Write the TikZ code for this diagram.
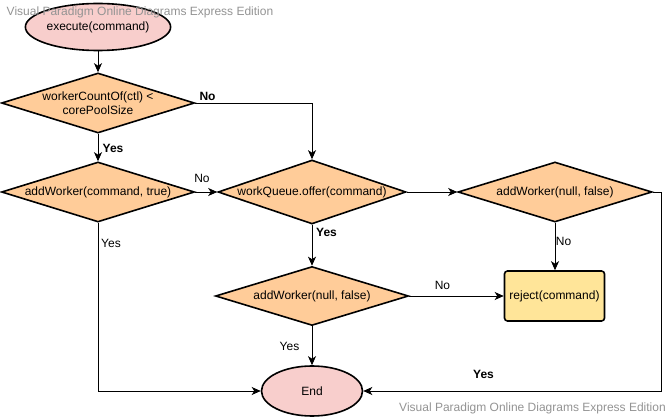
\documentclass[tikz,border=0pt]{standalone}
\usepackage{fontspec}
\setmainfont{Liberation Sans}
\usetikzlibrary{shapes.geometric,arrows.meta}
\definecolor{dfill}{HTML}{FFCC99}
\definecolor{efill}{HTML}{F8CECC}
\definecolor{rfill}{HTML}{FFE599}
\definecolor{wmgray}{HTML}{939393}
\begin{document}
\begin{tikzpicture}[x=1pt,y=-1pt,
  font=\fontsize{12}{14.5}\selectfont,
  decision/.style n args={3}{diamond, draw, line width=1.6pt, fill=dfill,
    minimum width=#1, minimum height=#2, inner sep=0pt,
    label={[align=center]center:{#3}}},
  terminal/.style={ellipse, draw, line width=1.6pt, fill=efill, inner sep=0pt},
  procbox/.style={rectangle, rounded corners=3pt, draw, line width=1.6pt, fill=rfill,
    minimum width=100pt, minimum height=50pt, inner sep=0pt},
  conn/.style={line width=0.9pt, -{Stealth[length=9pt,width=8pt,inset=2.5pt]}},
  lab/.style={inner sep=0pt},
  blab/.style={inner sep=0pt, font=\fontsize{12}{14.5}\selectfont\bfseries},
  wmark/.style={inner sep=0pt, text=wmgray, font=\fontsize{12}{14}\selectfont},
]
\useasboundingbox (0,0) rectangle (672,419);

\node[terminal, minimum width=116pt, minimum height=47pt] (s) at (98,27) {execute(command)};
\node[decision={193pt}{60pt}{workerCountOf(ctl) <\\corePoolSize}] (d1) at (98,103) {};
\node[decision={193pt}{60pt}{addWorker(command, true)}] (d2) at (98,192) {};
\node[decision={188pt}{64pt}{workQueue.offer(command)}] (d3) at (312,192) {};
\node[decision={194pt}{60pt}{addWorker(null, false)}] (d4) at (555,192) {};
\node[decision={193pt}{59pt}{addWorker(null, false)}] (d5) at (312,296) {};
\node[procbox] (r) at (554.5,296) {reject(command)};
\node[terminal, minimum width=101pt, minimum height=50pt] (e) at (312,391) {End};

\coordinate (c1) at (661,192);

\draw[conn] (s.south) -- (d1.north);
\draw[conn] (d1.east) -| (d3.north);
\draw[conn] (d1.south) -- (d2.north);
\draw[conn] (d2.east) -- (d3.west);
\draw[conn] (d2.south) |- (e.west);
\draw[conn] (d3.east) -- (d4.west);
\draw[conn] (d3.south) -- (d5.north);
\draw[conn] (d4.south) -- (d4.south |- r.north);
\draw[conn] (d4.east) -- (c1) |- (e.east);
\draw[conn] (d5.east) -- (r.west);
\draw[conn] (d5.south) -- (e.north);

\node[blab] (l1) at (207.5,96) {No};
\node[blab] (l2) at (113,148) {Yes};
\node[lab] (l3) at (202,178) {No};
\node[lab] (l4) at (111,243) {Yes};
\node[blab] (l5) at (326.5,232) {Yes};
\node[lab] (l6) at (563.5,241) {No};
\node[lab] (l7) at (442.5,285) {No};
\node[lab] (l8) at (289.5,346) {Yes};
\node[blab] (l9) at (483.5,374) {Yes};

\node[wmark] (w1) at (140,12) {Visual Paradigm Online Diagrams Express Edition};
\node[wmark] (w2) at (532.5,408) {Visual Paradigm Online Diagrams Express Edition};
\end{tikzpicture}
\end{document}
